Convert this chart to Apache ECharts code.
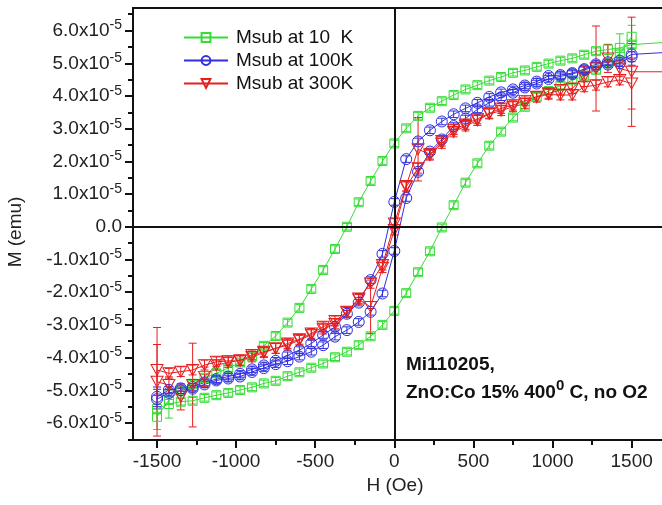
<!DOCTYPE html>
<html>
<head>
<meta charset="utf-8">
<script src="https://cdn.jsdelivr.net/npm/echarts@6/dist/echarts.min.js"></script>
<style>
  html, body { margin: 0; padding: 0; background: #fff; }
  #chart { width: 662px; height: 505px; }
</style>
</head>
<body>
<div id="chart"></div>
<script>
// Applied field H (Oe) of every measured point, shared by all branches
const fieldOe = [-1500, -1425, -1350, -1275, -1200, -1125, -1050, -975, -900, -825,
  -750, -675, -600, -525, -450, -375, -300, -225, -150, -75, 0,
  75, 150, 225, 300, 375, 450, 525, 600, 675, 750, 825, 900, 975, 1050,
  1125, 1200, 1275, 1350, 1425, 1500];

// Magnetisation in units of 1e-5 emu, listed in order of increasing field.
// "down": field swept from +1500 Oe to -1500 Oe; "up": swept back to +1500 Oe.
const m10K_down = [-5.81, -5.30, -5.00, -4.80, -4.62, -4.48, -4.32, -4.15, -3.97, -3.64,
  -3.34, -2.93, -2.48, -1.90, -1.32, -0.68, 0.00, 0.75, 1.40, 2.01, 2.55,
  3.01, 3.39, 3.64, 3.84, 4.03, 4.20, 4.33, 4.47, 4.58, 4.71, 4.78, 4.89, 4.99, 5.08,
  5.15, 5.26, 5.37, 5.42, 5.47, 5.57];
const m10K_up = [-5.57, -5.42, -5.35, -5.32, -5.23, -5.15, -5.08, -4.99, -4.91, -4.79,
  -4.71, -4.57, -4.45, -4.31, -4.18, -3.99, -3.82, -3.62, -3.35, -3.00, -2.57,
  -2.03, -1.39, -0.75, -0.02, 0.66, 1.35, 1.94, 2.48, 2.91, 3.34, 3.67, 3.97, 4.15, 4.32,
  4.48, 4.62, 4.80, 5.00, 5.30, 5.81];

const m100K_down = [-5.20, -4.99, -4.94, -4.90, -4.76, -4.66, -4.58, -4.50, -4.36, -4.24,
  -4.10, -3.93, -3.77, -3.57, -3.31, -3.06, -2.66, -2.32, -1.63, -0.83, 0.76,
  2.07, 2.61, 2.95, 3.22, 3.44, 3.62, 3.79, 3.97, 4.11, 4.20, 4.32, 4.44, 4.61, 4.64,
  4.70, 4.82, 4.97, 5.03, 5.08, 5.27];
const m100K_up = [-5.27, -5.08, -5.00, -4.95, -4.82, -4.70, -4.64, -4.58, -4.44, -4.32,
  -4.20, -4.11, -3.97, -3.82, -3.62, -3.36, -3.16, -2.91, -2.60, -2.04, -0.74,
  0.88, 1.68, 2.30, 2.67, 3.08, 3.31, 3.59, 3.79, 3.96, 4.10, 4.26, 4.38, 4.52, 4.60,
  4.67, 4.79, 4.92, 4.96, 5.00, 5.20];

const m300K_down = [-4.38, -4.48, -4.43, -4.38, -4.23, -4.13, -4.10, -4.10, -3.92, -3.82,
  -3.72, -3.57, -3.44, -3.26, -3.06, -2.88, -2.60, -2.19, -1.73, -1.17, 0.10,
  1.25, 2.37, 2.22, 2.62, 2.97, 3.13, 3.30, 3.47, 3.62, 3.72, 3.85, 3.98, 4.08, 4.18,
  4.23, 4.59, 4.84, 5.15, 4.84, 4.74];
const m300K_up = [-4.74, -4.84, -5.20, -4.84, -4.59, -4.23, -4.15, -4.08, -3.98, -3.85,
  -3.72, -3.62, -3.47, -3.30, -3.13, -2.97, -2.62, -2.22, -2.45, -1.25, -0.10,
  1.22, 1.79, 2.19, 2.55, 2.90, 3.08, 3.25, 3.45, 3.55, 3.67, 3.77, 3.96, 4.05, 4.03,
  4.03, 4.28, 4.33, 4.43, 4.49, 4.38];

// Half-height of each error bar, same units and order
const e10K_down = [0.39, 0.10, 0.10, 0.10, 0.10, 0.10, 0.10, 0.10, 0.10, 0.10,
  0.10, 0.10, 0.10, 0.10, 0.10, 0.10, 0.10, 0.10, 0.10, 0.10, 0.10,
  0.10, 0.10, 0.10, 0.10, 0.10, 0.10, 0.10, 0.10, 0.10, 0.10, 0.10, 0.10, 0.10, 0.10,
  0.10, 0.10, 0.10, 0.15, 0.43, 0.10];
const e10K_up = [0.15, 0.43, 0.10, 0.10, 0.10, 0.10, 0.10, 0.10, 0.10, 0.10,
  0.10, 0.10, 0.10, 0.10, 0.10, 0.10, 0.10, 0.10, 0.10, 0.10, 0.10,
  0.10, 0.10, 0.10, 0.10, 0.10, 0.10, 0.10, 0.10, 0.10, 0.10, 0.10, 0.10, 0.10, 0.10,
  0.10, 0.10, 0.10, 0.10, 0.10, 0.35];
const e100K_down = [0.30, 0.10, 0.10, 0.10, 0.10, 0.10, 0.10, 0.10, 0.10, 0.10,
  0.10, 0.10, 0.10, 0.10, 0.10, 0.10, 0.10, 0.10, 0.10, 0.10, 0.10,
  0.10, 0.10, 0.10, 0.10, 0.10, 0.10, 0.10, 0.10, 0.10, 0.10, 0.10, 0.10, 0.10, 0.10,
  0.10, 0.10, 0.10, 0.10, 0.10, 0.33];
const e100K_up = [0.30, 0.10, 0.10, 0.10, 0.10, 0.10, 0.10, 0.10, 0.10, 0.10,
  0.10, 0.10, 0.10, 0.10, 0.10, 0.10, 0.10, 0.10, 0.10, 0.10, 0.10,
  0.10, 0.10, 0.10, 0.10, 0.10, 0.10, 0.10, 0.10, 0.10, 0.10, 0.10, 0.10, 0.10, 0.10,
  0.10, 0.10, 0.10, 0.10, 0.10, 0.15];
const e300K_down = [0.78, 0.15, 0.15, 0.15, 0.15, 0.15, 0.15, 0.15, 0.15, 0.15,
  0.15, 0.15, 0.15, 0.15, 0.15, 0.15, 0.15, 0.15, 0.15, 0.15, 0.15,
  0.15, 0.97, 0.15, 0.15, 0.15, 0.15, 0.15, 0.15, 0.15, 0.15, 0.15, 0.15, 0.15, 0.15,
  0.15, 0.30, 1.30, 0.43, 0.25, 1.67];
const e300K_up = [1.66, 0.25, 0.40, 1.28, 0.30, 0.15, 0.15, 0.15, 0.15, 0.15,
  0.15, 0.15, 0.15, 0.15, 0.15, 0.15, 0.15, 0.15, 0.82, 0.15, 0.15,
  0.15, 0.15, 0.15, 0.15, 0.15, 0.15, 0.15, 0.15, 0.15, 0.15, 0.15, 0.15, 0.15, 0.15,
  0.15, 0.15, 0.15, 0.15, 0.15, 0.78];

// First reading of each sweep, taken at 2000 Oe (beyond the plotted range)
const startField = 2000;
const startM = { '10K': 5.73, '100K': 5.41, '300K': 4.74 };

// Axis ticks
const xMajorTicks = [-1500, -1000, -500, 0, 500, 1000, 1500];
const xMinorTicks = [-1250, -750, -250, 250, 750, 1250];
const yMajorTicks = [-6, -5, -4, -3, -2, -1, 0, 1, 2, 3, 4, 5, 6];
const yMinorTicks = [-6.5, -5.5, -4.5, -3.5, -2.5, -1.5, -0.5, 0.5, 1.5, 2.5, 3.5, 4.5, 5.5, 6.5];

const legendNames = ['Msub at 10  K', 'Msub at 100K', 'Msub at 300K'];

const FONT = '"Liberation Sans", Arial, Helvetica, sans-serif';
const AXIS_COLOR = '#111';
const X_RANGE = [-1652, 1692];
const Y_RANGE = [-6.52, 6.69];

// Whole loop in measurement order: start point, sweep down, sweep up
function loopPoints(start, down, up) {
  const pts = [[startField, start]];
  for (let i = fieldOe.length - 1; i >= 0; i--) pts.push([fieldOe[i], down[i]]);
  for (let i = 0; i < fieldOe.length; i++) pts.push([fieldOe[i], up[i]]);
  return pts;
}
function errorPoints(down, up, eDown, eUp) {
  const pts = [];
  for (let i = 0; i < fieldOe.length; i++) {
    pts.push([fieldOe[i], down[i], eDown[i]]);
    pts.push([fieldOe[i], up[i], eUp[i]]);
  }
  return pts;
}

function errorSeries(color, data) {
  return {
    type: 'custom',
    silent: true,
    clip: true,
    z: 3,
    data: data,
    encode: { x: 0, y: 1 },
    renderItem: function (params, api) {
      const h = api.value(0), m = api.value(1), e = api.value(2);
      const top = api.coord([h, m + e]);
      const bot = api.coord([h, m - e]);
      const w = 4;
      const style = { stroke: color, lineWidth: 1, fill: null };
      return {
        type: 'group',
        children: [
          { type: 'line', shape: { x1: top[0], y1: top[1], x2: bot[0], y2: bot[1] }, style: style },
          { type: 'line', shape: { x1: top[0] - w, y1: top[1], x2: top[0] + w, y2: top[1] }, style: style },
          { type: 'line', shape: { x1: bot[0] - w, y1: bot[1], x2: bot[0] + w, y2: bot[1] }, style: style }
        ]
      };
    }
  };
}

function loopSeries(name, color, symbol, size, rotate, data, extra) {
  return Object.assign({
    name: name,
    type: 'line',
    data: data,
    color: color,
    symbol: symbol,
    symbolSize: size,
    symbolRotate: rotate,
    showSymbol: true,
    clip: true,
    z: 4,
    lineStyle: { color: color, width: 1 },
    itemStyle: { color: 'rgba(255,255,255,0)', borderColor: color, borderWidth: 1 },
    emphasis: { disabled: true }
  }, extra || {});
}

const GREEN = '#35dc35';
const BLUE = '#2f2fe0';
const RED = '#e61e1e';

const chart = echarts.init(document.getElementById('chart'), null, { renderer: 'canvas' });

chart.setOption({
  animation: false,
  backgroundColor: '#fff',
  textStyle: { fontFamily: FONT },
  grid: { left: 133, top: 8, right: 0, bottom: 65, containLabel: false },
  legend: {
    orient: 'vertical',
    left: 178,
    top: 23,
    itemWidth: 44,
    itemHeight: 11,
    itemGap: 4,
    selectedMode: false,
    textStyle: { fontSize: 19, color: '#111', fontFamily: FONT, lineHeight: 19, padding: [0, 0, 0, 3] },
    data: legendNames
  },
  xAxis: [
    {
      type: 'value', min: X_RANGE[0], max: X_RANGE[1], position: 'bottom',
      axisLine: { show: true, onZero: false, lineStyle: { color: AXIS_COLOR, width: 2 } },
      axisTick: { show: true, inside: false, length: 8, customValues: xMajorTicks, lineStyle: { color: AXIS_COLOR, width: 2 } },
      axisLabel: {
        show: true, customValues: xMajorTicks, fontSize: 19, color: '#222', margin: 12, fontFamily: FONT,
        formatter: function (v) { return String(Math.round(v)); }
      },
      splitLine: { show: false }
    },
    {
      type: 'value', min: X_RANGE[0], max: X_RANGE[1], position: 'bottom',
      axisLine: { show: false, onZero: false },
      axisTick: { show: true, inside: false, length: 5, customValues: xMinorTicks, lineStyle: { color: AXIS_COLOR, width: 2 } },
      axisLabel: { show: false },
      splitLine: { show: false }
    },
    {
      type: 'value', min: X_RANGE[0], max: X_RANGE[1], position: 'top',
      axisLine: { show: true, onZero: false, lineStyle: { color: AXIS_COLOR, width: 2 } },
      axisTick: { show: false }, axisLabel: { show: false }, splitLine: { show: false }
    }
  ],
  yAxis: [
    {
      type: 'value', min: Y_RANGE[0], max: Y_RANGE[1], position: 'left',
      axisLine: { show: true, onZero: false, lineStyle: { color: AXIS_COLOR, width: 2 } },
      axisTick: { show: true, inside: false, length: 8, customValues: yMajorTicks, lineStyle: { color: AXIS_COLOR, width: 2 } },
      axisLabel: {
        show: true, customValues: yMajorTicks, margin: 11, fontFamily: FONT,
        formatter: function (v) {
          if (Math.abs(v) < 1e-9) return '{n|0.0}';
          return '{n|' + v.toFixed(1) + 'x10}{s|-5}';
        },
        rich: {
          n: { fontSize: 19, color: '#222', fontFamily: FONT },
          s: { fontSize: 14, color: '#222', fontFamily: FONT, padding: [0, 0, 10, 0] }
        }
      },
      splitLine: { show: false }
    },
    {
      type: 'value', min: Y_RANGE[0], max: Y_RANGE[1], position: 'left',
      axisLine: { show: false, onZero: false },
      axisTick: { show: true, inside: false, length: 5, customValues: yMinorTicks, lineStyle: { color: AXIS_COLOR, width: 2 } },
      axisLabel: { show: false },
      splitLine: { show: false }
    }
  ],
  graphic: [
    {
      type: 'text', x: 395, y: 486,
      style: { text: 'H (Oe)', align: 'center', verticalAlign: 'middle', fill: '#222', font: '19px ' + FONT }
    },
    {
      type: 'text', x: 16, y: 232, rotation: Math.PI / 2,
      style: { text: 'M (emu)', x: 0, y: 0, align: 'center', verticalAlign: 'middle', fill: '#222', font: '19px ' + FONT }
    },
    {
      type: 'text', x: 406, y: 365,
      style: { text: 'Mi110205,', verticalAlign: 'middle', fill: '#111', font: 'bold 19px ' + FONT }
    },
    {
      type: 'text', x: 406, y: 393,
      style: {
        text: '{a|ZnO:Co 15% 400}{s|0}{a| C, no O2}', verticalAlign: 'middle',
        rich: {
          a: { fontSize: 19, fontWeight: 'bold', fill: '#111', fontFamily: FONT },
          s: { fontSize: 15, fontWeight: 'bold', fill: '#111', fontFamily: FONT, padding: [0, 0, 14, 0] }
        }
      }
    }
  ],
  series: [
    loopSeries(legendNames[0], GREEN, 'rect', 9, 0,
      loopPoints(startM['10K'], m10K_down, m10K_up),
      {
        markLine: {
          silent: true, symbol: ['none', 'none'], label: { show: false },
          lineStyle: { color: AXIS_COLOR, width: 2, type: 'solid' },
          data: [{ xAxis: 0 }, { yAxis: 0 }]
        }
      }),
    errorSeries(GREEN, errorPoints(m10K_down, m10K_up, e10K_down, e10K_up)),
    loopSeries(legendNames[1], BLUE, 'circle', 11, 0,
      loopPoints(startM['100K'], m100K_down, m100K_up)),
    errorSeries(BLUE, errorPoints(m100K_down, m100K_up, e100K_down, e100K_up)),
    loopSeries(legendNames[2], RED, 'triangle', [12, 11], 180,
      loopPoints(startM['300K'], m300K_down, m300K_up)),
    errorSeries(RED, errorPoints(m300K_down, m300K_up, e300K_down, e300K_up))
  ]
});
</script>
</body>
</html>
